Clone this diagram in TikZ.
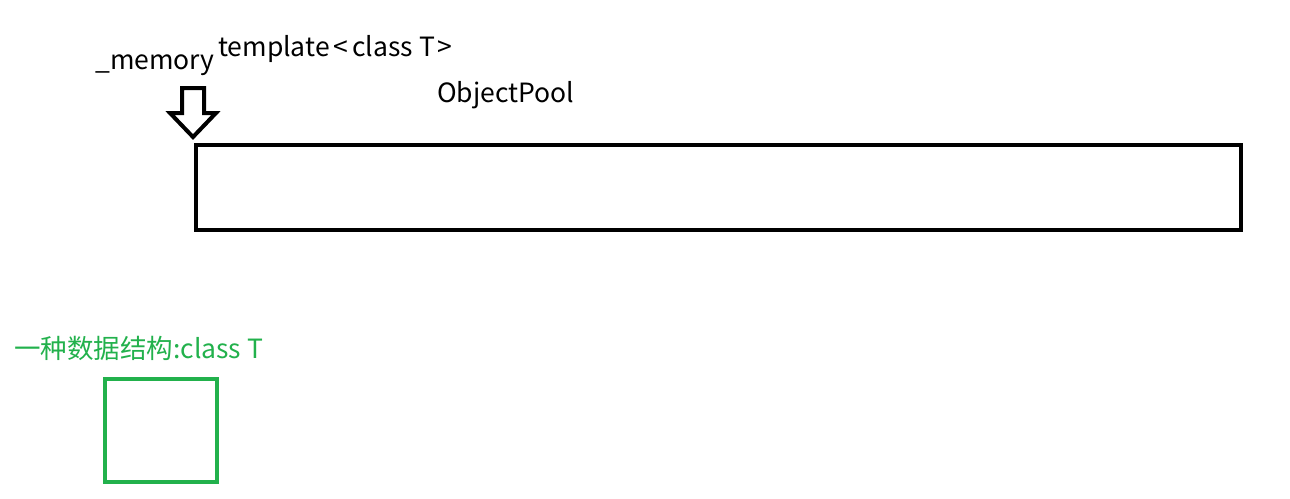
\documentclass[tikz,border=0pt]{standalone}
\usepackage{fontspec}
\setmainfont{Noto Sans CJK SC}
\definecolor{pgreen}{RGB}{34,177,76}
\begin{document}
\begin{tikzpicture}[x=1pt,y=-1pt,
  lbl/.style={inner sep=0pt,anchor=base west,font=\fontsize{26.5}{30}\selectfont},
  thick4/.style={line width=4pt}]
\useasboundingbox (0,0) rectangle (1290,498);
\node[lbl] (mem) at (95,69) {\_memory};
\node[lbl] (tpl) at (218,56) {template\hspace{4pt}<\hspace{4pt}class T\hspace{2pt}>};
\node[lbl] (op) at (437,102) {ObjectPool};
\draw[thick4,line join=miter] (182,88) -- (204,88) -- (204,113) -- (216,113) -- (193,137) -- (170,113) -- (182,113) -- cycle;
\draw[thick4] (196,145) rectangle (1241,230);
\node[lbl,text=pgreen] (ds) at (14,358) {一种数据结构:class T};
\draw[thick4,draw=pgreen] (105,379) rectangle (217,482);
\end{tikzpicture}
\end{document}
